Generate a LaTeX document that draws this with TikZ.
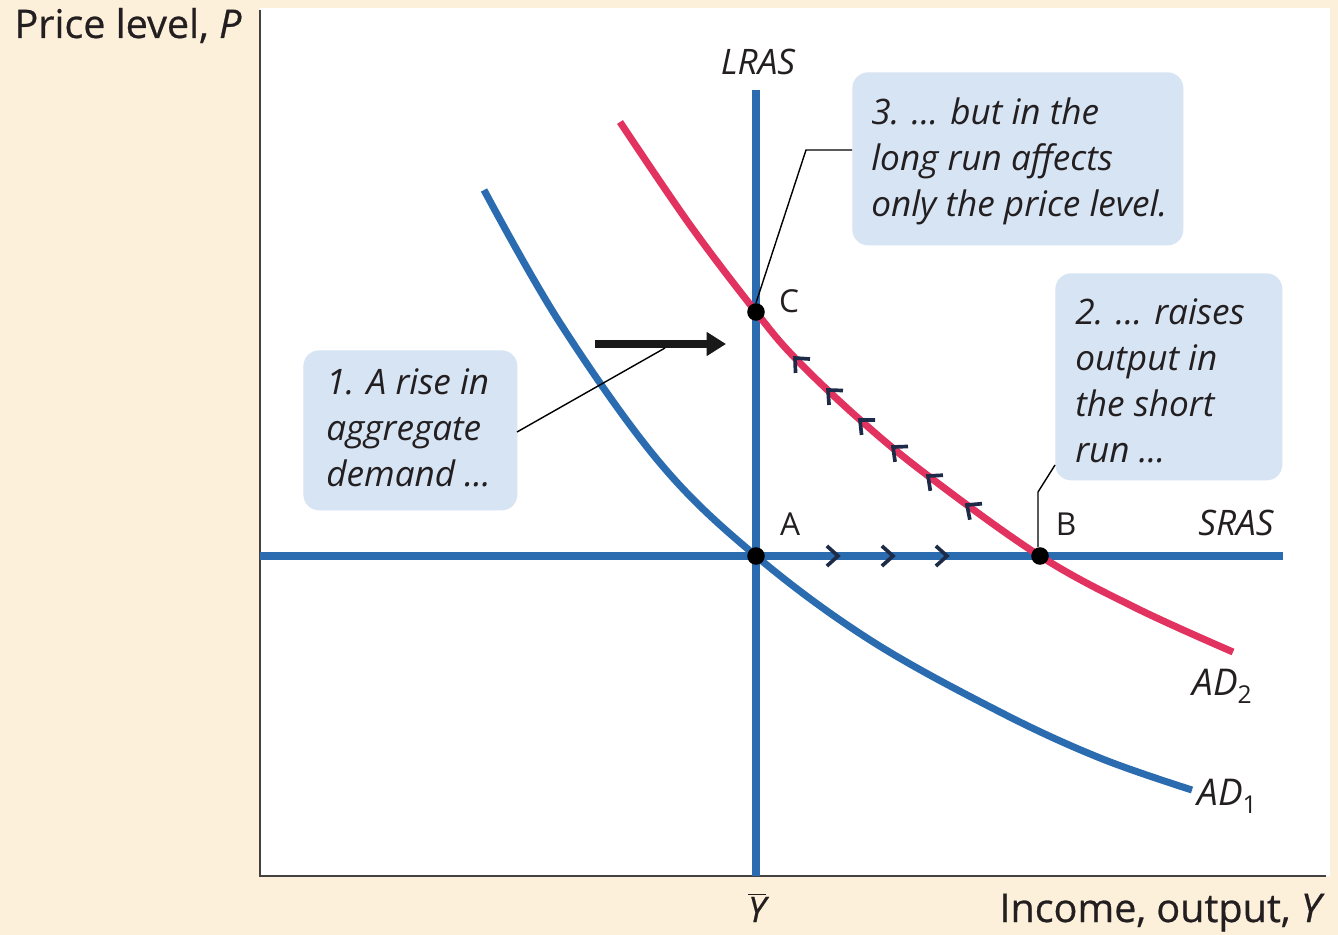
\documentclass[tikz,border=0pt]{standalone}
\usepackage{fontspec}
\setmainfont{Open Sans}
\newfontfamily\axisfont[FakeBold=0.6]{Open Sans}
\usetikzlibrary{arrows.meta}
\definecolor{cream}{HTML}{FCF0DA}
\definecolor{curveblue}{HTML}{2B6CB0}
\definecolor{curvered}{HTML}{E2325F}
\definecolor{boxblue}{HTML}{D6E4F4}
\definecolor{ink}{HTML}{231F20}
\definecolor{navy}{HTML}{1E2B48}
\tikzset{
  axisline/.style={draw=ink!85, line width=1.5pt},
  bluecurve/.style={draw=curveblue, line width=4pt},
  redcurve/.style={draw=curvered, line width=4pt},
  dotnode/.style={circle, fill=black, inner sep=0pt, minimum size=10pt},
  leader/.style={draw=black, line width=0.8pt},
  notebox/.style={fill=boxblue, rounded corners=9pt, inner sep=0pt, anchor=north west},
  notetext/.style={font=\fontsize{20}{26.3}\selectfont\itshape, text=ink, align=left, inner sep=0pt, anchor=north west},
  ptlabel/.style={font=\fontsize{18}{20}\selectfont, text=ink, anchor=base, inner sep=0pt},
  curvelabel/.style={font=\fontsize{20}{22}\selectfont\itshape, text=ink, anchor=base, inner sep=0pt},
  axislabel/.style={font=\axisfont\fontsize{22.5}{26}\selectfont, text=ink, anchor=base, inner sep=0pt},
  bigarrow/.style={draw=black!90, line width=4.4pt, -{Triangle[length=11pt,width=13pt]}},
  chevline/.style={draw=navy, line width=2.1pt, line join=miter}
}
\newcommand{\subdrop}[1]{\raisebox{-0.45ex}{\fontsize{14}{14}\selectfont\upshape #1}}
% chevron: vertex (#1), arms pointing back along angle #2 (pixel system)
\newcommand{\chevat}[2]{\draw[chevline] ([shift={({#2+42}:15)}]#1) -- (#1) -- ([shift={({#2-42}:15)}]#1);}
\begin{document}
\begin{tikzpicture}[x=0.02cm, y=-0.02cm]
\fill[cream] (0,0) rectangle (1338,935);
\useasboundingbox (0,0) rectangle (1338,935);
\fill[white] (260,8) rectangle (1330,876);

% axes
\coordinate (ytop) at (260,10);
\coordinate (orig) at (260,876);
\coordinate (xend) at (1326,876);
\draw[axisline] (ytop) -- (orig) -- (xend);
\node[axislabel] (plabel) at (128,38) {Price level, \textit{P}};
\node[axislabel] (ylabel) at (1162,922) {Income, output, \textit{Y}};
\node[axislabel, font=\axisfont\fontsize{20}{24}\selectfont] (ybar) at (757,922) {$\overline{\mbox{\itshape Y}}$};

% LRAS and SRAS
\coordinate (lrasTop) at (756,90);
\coordinate (lrasBot) at (756,876);
\coordinate (srasL) at (260,556);
\coordinate (srasR) at (1283,556);
\draw[bluecurve] (lrasTop) -- (lrasBot);
\draw[bluecurve] (srasL) -- (srasR);
\node[curvelabel] (lrasLab) at (758,75) {LRAS};
\node[curvelabel] (srasLab) at (1236,535) {SRAS};

% AD curves
\draw[bluecurve] plot[smooth, tension=0.6] coordinates {(484,190) (560,323) (660,463) (756,556) (870,640) (1000,712) (1100,758) (1192,790)};
\draw[redcurve] plot[smooth, tension=0.6] coordinates {(620,122) (690,225) (756,312) (795,358) (858,418) (927,475) (1040,556) (1136,608) (1233,652)};
\node[curvelabel, font=\fontsize{21}{22}\selectfont\itshape] (ad2) at (1222,695) {AD\subdrop{2}};
\node[curvelabel, font=\fontsize{21}{22}\selectfont\itshape] (ad1) at (1227,805) {AD\subdrop{1}};

% movement arrowheads
\coordinate (m1) at (838,556);
\coordinate (m2) at (893,556);
\coordinate (m3) at (947,556);
\chevat{m1}{180}
\chevat{m2}{180}
\chevat{m3}{180}
\coordinate (r1) at (795,358);
\coordinate (r2) at (828,390);
\coordinate (r3) at (860,420);
\coordinate (r4) at (893,447);
\coordinate (r5) at (928,476);
\coordinate (r6) at (967,505);
\chevat{r1}{46}
\chevat{r2}{44}
\chevat{r3}{42}
\chevat{r4}{40}
\chevat{r5}{39}
\chevat{r6}{37}

% points
\node[dotnode] (A) at (756,556) {};
\node[dotnode] (B) at (1040,556) {};
\node[dotnode] (C) at (756,312) {};
\node[ptlabel] (Alab) at (790,535) {A};
\node[ptlabel] (Blab) at (1066,535) {B};
\node[ptlabel] (Clab) at (789,313) {C};

% big shift arrow
\coordinate (shiftS) at (595,344);
\coordinate (shiftE) at (726,344);
\draw[bigarrow] (shiftS) -- (shiftE);

% note boxes
\node[notebox, minimum width=214*0.02cm, minimum height=160*0.02cm] (b1) at (303,350) {};
\node[notetext] (t1) at (326,368) {1. A rise in\\aggregate\\demand ...};
\node[notebox, minimum width=331*0.02cm, minimum height=173*0.02cm] (b3) at (852,72) {};
\node[notetext] (t3) at (871,97) {3. ... but in the\\long run affects\\only the price level.};
\node[notebox, minimum width=227*0.02cm, minimum height=207*0.02cm] (b2) at (1055,273) {};
\node[notetext] (t2) at (1075,298) {2. ... raises\\output in\\the short\\run ...};

% leaders
\coordinate (l1a) at (517,432);
\coordinate (l1b) at (665,348);
\draw[leader] (l1a) -- (l1b);
\coordinate (l3a) at (806,150);
\coordinate (l3b) at (852,150);
\draw[leader] (C.north) -- (l3a) -- (l3b);
\coordinate (l2a) at (1038,492);
\coordinate (l2b) at (1055,465);
\draw[leader] (B.north -| l2a) -- (l2a) -- (l2b);
\end{tikzpicture}
\end{document}
